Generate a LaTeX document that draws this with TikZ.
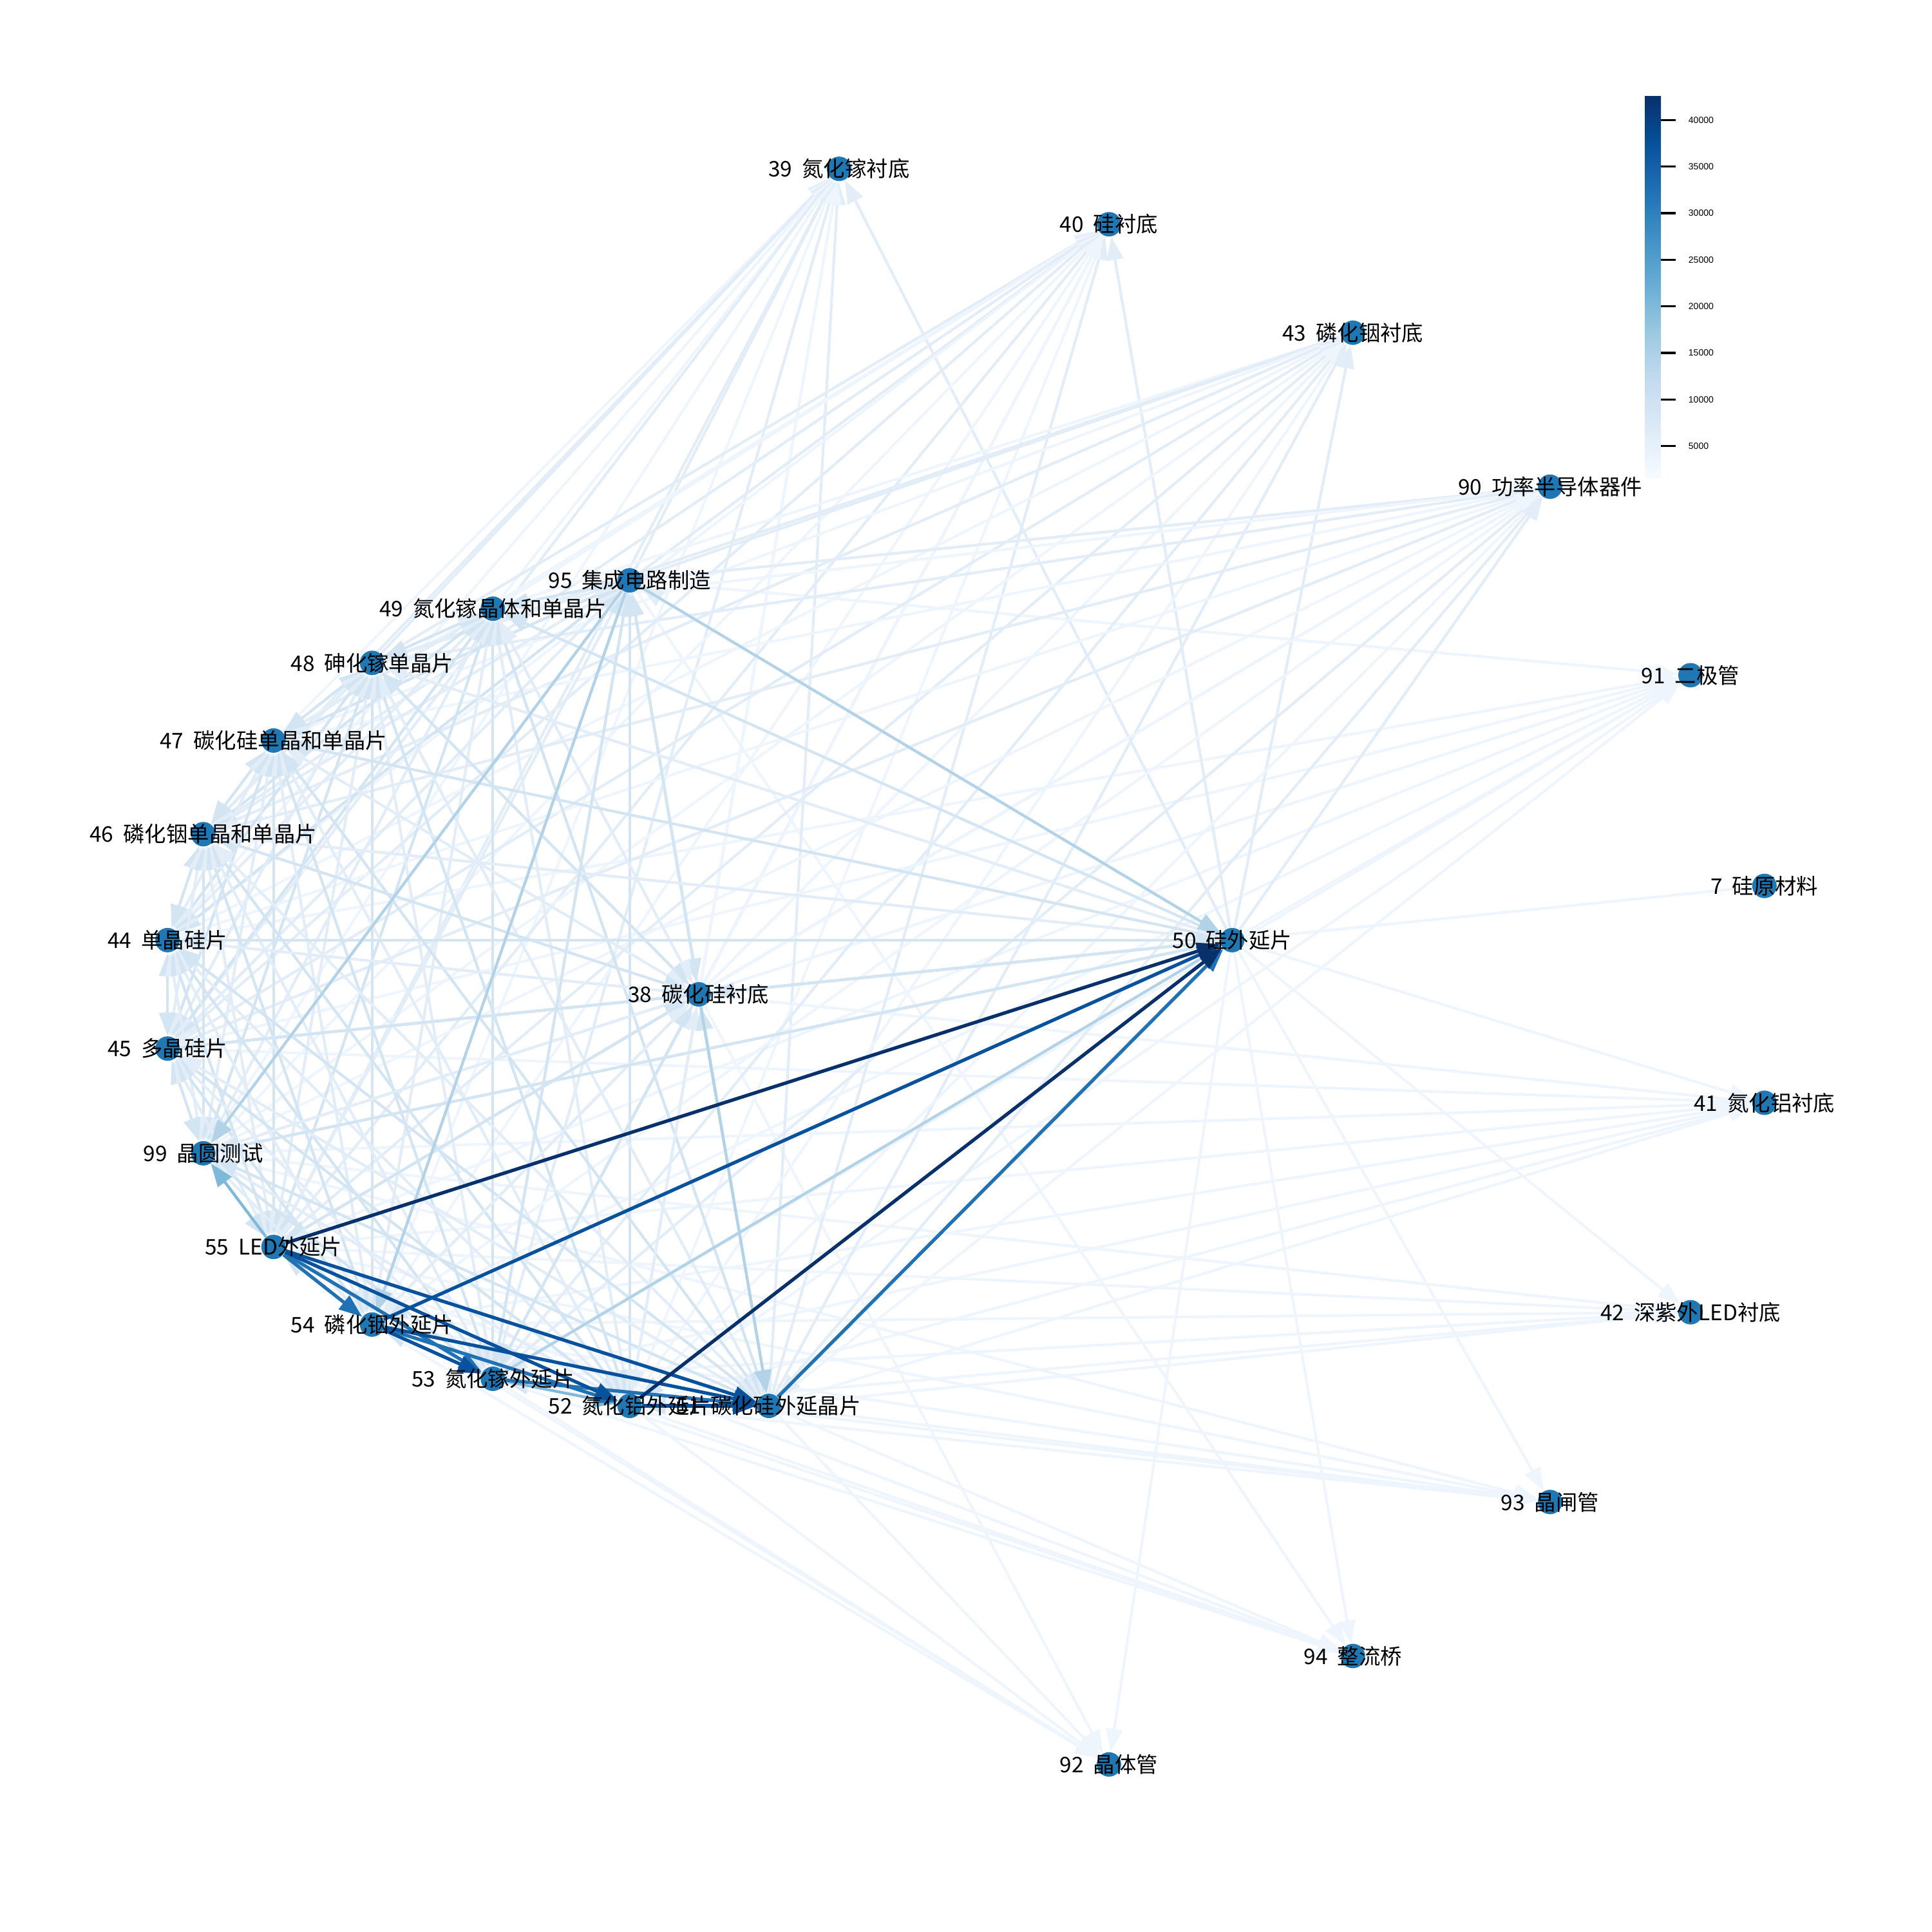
\documentclass[tikz,border=0pt]{standalone}
\usepackage{fontspec}
\setmainfont{Liberation Sans}
\newfontfamily\cjk{Noto Sans CJK SC}
\usetikzlibrary{arrows.meta}
\definecolor{nodeblue}{HTML}{1F77B4}
\definecolor{cm0}{HTML}{F7FBFF}
\definecolor{cm1}{HTML}{DEEBF7}
\definecolor{cm2}{HTML}{C6DBEF}
\definecolor{cm3}{HTML}{9ECAE1}
\definecolor{cm4}{HTML}{6BAED6}
\definecolor{cm5}{HTML}{4292C6}
\definecolor{cm6}{HTML}{2171B5}
\definecolor{cm7}{HTML}{08519C}
\definecolor{cm8}{HTML}{08306B}
\definecolor{bA}{HTML}{EEF5FC}
\definecolor{bB}{HTML}{E2EDF8}
\definecolor{bC}{HTML}{D3E4F3}
\definecolor{bD}{HTML}{B2D2E8}
\definecolor{bE}{HTML}{7FB9DA}
\definecolor{bF}{HTML}{2171B5}
\definecolor{bG}{HTML}{08519C}
\definecolor{bH}{HTML}{08306B}
\pgfdeclareverticalshading{bluescm}{100bp}{color(0bp)=(cm0); color(25bp)=(cm0); color(31.25bp)=(cm1); color(37.5bp)=(cm2); color(43.75bp)=(cm3); color(50bp)=(cm4); color(56.25bp)=(cm5); color(62.5bp)=(cm6); color(68.75bp)=(cm7); color(75bp)=(cm8); color(100bp)=(cm8)}
\pgfdeclarelayer{edges}
\pgfsetlayers{edges,main}
\tikzset{
  nd/.style={circle, fill=nodeblue, minimum size=0.38cm, inner sep=0pt},
  lbl/.style={font=\cjk\fontsize{9.5}{11}\selectfont, inner sep=0pt, text=black},
  ed/.style={line width=1.2pt, -{Triangle[length=0.36cm,width=0.26cm]}},
  edb/.style={line width=1.2pt, {Triangle[length=0.36cm,width=0.26cm]}-{Triangle[length=0.36cm,width=0.26cm]}},
  tickl/.style={font=\fontsize{4}{5}\selectfont, anchor=west, inner sep=0pt},
}
\newcommand\mylab[2]{\node[lbl] (l#1) at (n#1) {#1\hspace{0.45em}#2};}
\begin{document}
\begin{tikzpicture}[x=0.019133cm, y=-0.019133cm]
\useasboundingbox (0,0) rectangle (1568,1568);
% nodes
\node[nd] (n39) at (681,137) {};
\node[nd] (n40) at (900,182) {};
\node[nd] (n43) at (1098,270) {};
\node[nd] (n90) at (1258,395) {};
\node[nd] (n91) at (1372,548) {};
\node[nd] (n7) at (1432,719) {};
\node[nd] (n41) at (1432,895) {};
\node[nd] (n42) at (1372,1065) {};
\node[nd] (n93) at (1258,1219) {};
\node[nd] (n94) at (1098,1344) {};
\node[nd] (n92) at (900,1432) {};
\node[nd] (n95) at (511,471) {};
\node[nd] (n49) at (400,494) {};
\node[nd] (n48) at (302,538) {};
\node[nd] (n47) at (222,601) {};
\node[nd] (n46) at (165,677) {};
\node[nd] (n44) at (136,763) {};
\node[nd] (n45) at (136,851) {};
\node[nd] (n99) at (165,936) {};
\node[nd] (n55) at (222,1012) {};
\node[nd] (n54) at (302,1075) {};
\node[nd] (n53) at (400,1119) {};
\node[nd] (n52) at (511,1141) {};
\node[nd] (n51) at (624,1141) {};
\node[nd] (n38) at (567,807) {};
\node[nd] (n50) at (1000,763) {};
% labels
\mylab{39}{氮化镓衬底}
\mylab{40}{硅衬底}
\mylab{43}{磷化铟衬底}
\mylab{90}{功率半导体器件}
\mylab{91}{二极管}
\mylab{7}{硅原材料}
\mylab{41}{氮化铝衬底}
\mylab{42}{深紫外LED衬底}
\mylab{93}{晶闸管}
\mylab{94}{整流桥}
\mylab{92}{晶体管}
\mylab{95}{集成电路制造}
\mylab{49}{氮化镓晶体和单晶片}
\mylab{48}{砷化镓单晶片}
\mylab{47}{碳化硅单晶和单晶片}
\mylab{46}{磷化铟单晶和单晶片}
\mylab{44}{单晶硅片}
\mylab{45}{多晶硅片}
\mylab{99}{晶圆测试}
\mylab{55}{LED外延片}
\mylab{54}{磷化铟外延片}
\mylab{53}{氮化镓外延片}
\mylab{52}{氮化铝外延片}
\mylab{51}{碳化硅外延晶片}
\mylab{38}{碳化硅衬底}
\mylab{50}{硅外延片}
% edges
\begin{pgfonlayer}{edges}
% lower outer targets
\foreach \s in {44,45,99,55,54,53,52,51,38,95,50} \draw[ed, color=bA] (n\s) -- (n91);
\foreach \s in {45,99,55,54,53,52,51,38,50} \draw[ed, color=bA] (n\s) -- (n41);
\foreach \s in {99,55,54,53,52,51,50} \draw[ed, color=bA] (n\s) -- (n42);
\foreach \s in {99,55,54,53,52,51,50} \draw[ed, color=bA] (n\s) -- (n93);
\foreach \s in {55,54,53,52,51,95,50} \draw[ed, color=bA] (n\s) -- (n94);
\foreach \s in {55,54,53,52,51,38,50} \draw[ed, color=bA] (n\s) -- (n92);
\draw[ed, color=bA] (n7) -- (n45);
% upper outer targets
\foreach \t in {39,40,43,90}{
  \foreach \s [count=\k] in {95,49,48,47,46,44,45,99,55,54,53,52,51,38,50}{
    \ifodd\k \draw[ed, color=bB] (n\s) -- (n\t); \else \draw[ed, color=bA] (n\s) -- (n\t); \fi
  }
}
% dense cluster
\foreach \a [count=\i] in {95,49,48,47,46,44,45,99,55,54,53,52,51,38,50}{
  \foreach \b [count=\j] in {95,49,48,47,46,44,45,99,55,54,53,52,51,38,50}{
    \ifnum\i<\j
      \ifodd\numexpr\i+\j\relax \draw[edb, color=bC] (n\a) -- (n\b); \else \draw[edb, color=bB] (n\a) -- (n\b); \fi
    \fi
  }
}
% medium edges
\foreach \s/\t/\c in {99/50/bC, 45/50/bC, 95/53/bC, 95/50/bD, 95/99/bD, 95/54/bD, 38/51/bD, 53/50/bD, 55/99/bE, 53/52/bE}
  \draw[ed, color=\c] (n\s) -- (n\t);
% strong edges
\foreach \s/\t/\c in {55/54/bF, 54/52/bF, 55/53/bF, 53/51/bF, 51/50/bF, 54/53/bG, 55/52/bG, 55/51/bG, 54/51/bG, 52/51/bG, 54/50/bG, 52/50/bH, 55/50/bH}
  \draw[ed, color=\c, line width=1.5pt] (n\s) -- (n\t);
\end{pgfonlayer}
% colour bar
\shade[shading=bluescm] (1335,388) rectangle (1348,78);
\foreach \v/\yy [count=\k] in {5000/362, 10000/324.2, 15000/286.4, 20000/248.6, 25000/210.8, 30000/173, 35000/135.2, 40000/97.4}{
  \draw[line width=0.9pt, black] (1348,\yy) -- (1360,\yy);
  \node[tickl] (cb\k) at (1370,\yy) {\v};
}
\end{tikzpicture}
\end{document}
